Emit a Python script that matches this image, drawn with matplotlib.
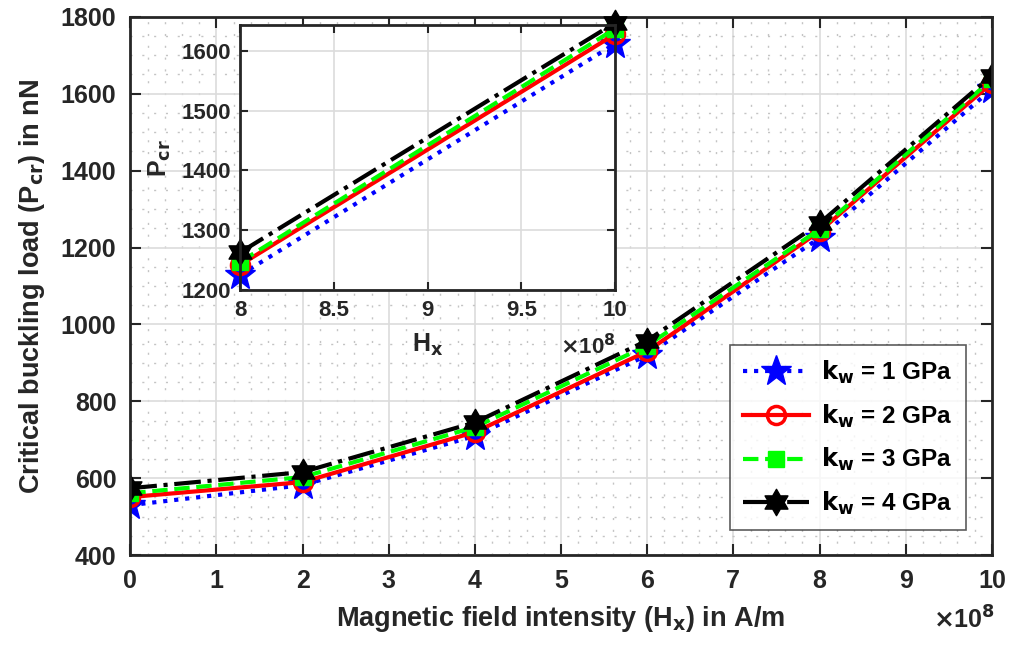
import numpy as np
import matplotlib.pyplot as plt
from matplotlib.path import Path
from matplotlib.ticker import MultipleLocator

plt.rcParams['font.family'] = ['Liberation Sans', 'DejaVu Sans']
plt.rcParams['font.weight'] = 'bold'
plt.rcParams['axes.labelweight'] = 'bold'

hx = [0, 2, 4, 6, 8, 10]
kw1 = [530, 582, 710, 920, 1225, 1612]
kw2 = [551, 590, 720, 930, 1242, 1628]
kw3 = [561, 603, 733, 945, 1247, 1637]
kw4 = [574, 616, 745, 958, 1263, 1647]

labels = ['$\\mathbf{k_w}$ = 1 GPa', '$\\mathbf{k_w}$ = 2 GPa',
          '$\\mathbf{k_w}$ = 3 GPa', '$\\mathbf{k_w}$ = 4 GPa']

# six-pointed star like MATLAB's hexagram
ang = np.pi / 2 + np.arange(12) * np.pi / 6
rad = np.where(np.arange(12) % 2 == 0, 1.0, 0.577)
hexa = Path(np.column_stack([rad * np.cos(ang), rad * np.sin(ang)]).tolist() + [[0, 1]], closed=True)

styles = [
    dict(color='blue', ls=':', marker='*', ms=23, mfc='blue', mec='blue'),
    dict(color='red', ls='-', marker='o', ms=13, mfc='none', mec='red', mew=2.5),
    dict(color='#00ff00', ls='--', marker='s', ms=11, mfc='#00ff00', mec='#00ff00'),
    dict(color='black', ls='-.', marker=hexa, ms=19, mfc='black', mec='black'),
]
series = [kw1, kw2, kw3, kw4]
grey = '#262626'

fig = plt.figure(figsize=(10.1, 6.47), dpi=100)
ax = fig.add_axes([0.129, 0.142, 0.853, 0.832])
for ys, st, lab in zip(series, styles, labels):
    ax.plot(hx, ys, lw=3, label=lab, **st)

ax.set_xlim(0, 10)
ax.set_ylim(400, 1800)
ax.xaxis.set_major_locator(MultipleLocator(1))
ax.xaxis.set_minor_locator(MultipleLocator(0.2))
ax.yaxis.set_major_locator(MultipleLocator(200))
ax.yaxis.set_minor_locator(MultipleLocator(50))
ax.grid(which='major', color='#dcdcdc', lw=1.2)
ax.grid(which='minor', color='#c4c4c4', lw=1, ls=(0, (1.5, 7)))
ax.set_axisbelow(True)
ax.tick_params(which='major', direction='in', length=8, width=1.5, top=True, right=True,
               labelsize=18, colors=grey, labelcolor=grey, pad=10)
ax.tick_params(which='minor', length=0)
for s in ax.spines.values():
    s.set_linewidth(2)
    s.set_color(grey)
ax.set_xlabel('Magnetic field intensity (H$_\\mathbf{x}$) in A/m', fontsize=19.5, color=grey, labelpad=8)
ax.set_ylabel('Critical buckling load (P$_\\mathbf{cr}$) in nN', fontsize=19.5, color=grey, labelpad=10)
fig.text(0.955, 0.02, '$\\times$10$^8$', fontsize=18, color=grey, ha='center', va='bottom')

leg = ax.legend(loc='lower right', bbox_to_anchor=(0.97, 0.046), borderaxespad=0, fontsize=17.5,
                frameon=True, fancybox=False, edgecolor='#333333', handlelength=2.7,
                labelspacing=0.68, borderpad=0.55, handletextpad=0.5)
leg.get_frame().set_linewidth(1.2)
for t in leg.get_texts():
    t.set_color('black')

ins = fig.add_axes([0.238, 0.552, 0.371, 0.409])
for ys, st in zip(series, styles):
    ins.plot(hx[4:], ys[4:], lw=3, clip_on=False, **st)
ins.set_xlim(8, 10)
ins.set_ylim(1200, 1643)
ins.yaxis.set_major_locator(MultipleLocator(100))
ins.set_xticks([8, 8.5, 9, 9.5, 10], ['8', '8.5', '9', '9.5', '10'])
ins.grid(color='#dcdcdc', lw=1.2)
ins.set_axisbelow(True)
ins.tick_params(direction='in', length=6, width=1.5, top=True, right=True,
                labelsize=16, colors=grey, labelcolor=grey, pad=7)
for s in ins.spines.values():
    s.set_linewidth(2)
    s.set_color(grey)
ins.set_xlabel('H$_\\mathbf{x}$', fontsize=18, color=grey, labelpad=8)
ins.set_ylabel('P$_\\mathbf{cr}$', fontsize=18, color=grey, labelpad=6)
fig.text(0.582, 0.445, '$\\times$10$^8$', fontsize=16, color=grey, ha='center', va='bottom')

fig.savefig('out.png', dpi=100)
